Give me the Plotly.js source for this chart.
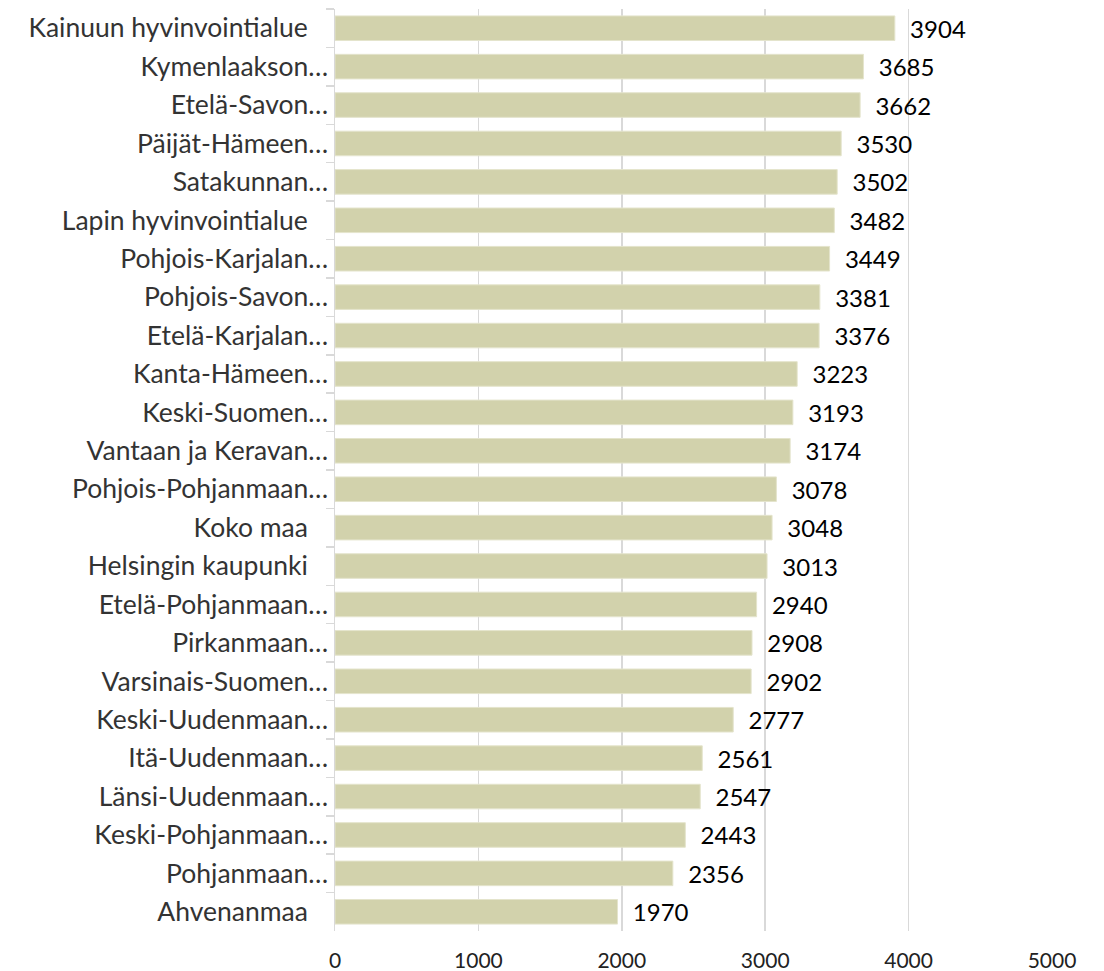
<!DOCTYPE html>
<html>
<head>
<meta charset="utf-8">
<script src="https://cdn.plot.ly/plotly-3.0.1.min.js"></script>
<style>html,body{margin:0;padding:0;background:#fff;}#chart{width:1104px;height:971px;}</style>
</head>
<body>
<div id="chart"></div>
<script>
const categories = [
  "Kainuun hyvinvointialue\u00a0\u00a0\u00a0",
  "Kymenlaakson…",
  "Etelä-Savon…",
  "Päijät-Hämeen…",
  "Satakunnan…",
  "Lapin hyvinvointialue\u00a0\u00a0\u00a0",
  "Pohjois-Karjalan…",
  "Pohjois-Savon…",
  "Etelä-Karjalan…",
  "Kanta-Hämeen…",
  "Keski-Suomen…",
  "Vantaan ja Keravan…",
  "Pohjois-Pohjanmaan…",
  "Koko maa\u00a0\u00a0\u00a0",
  "Helsingin kaupunki\u00a0\u00a0\u00a0",
  "Etelä-Pohjanmaan…",
  "Pirkanmaan…",
  "Varsinais-Suomen…",
  "Keski-Uudenmaan…",
  "Itä-Uudenmaan…",
  "Länsi-Uudenmaan…",
  "Keski-Pohjanmaan…",
  "Pohjanmaan…",
  "Ahvenanmaa\u00a0\u00a0\u00a0"
];
const values = [3904, 3685, 3662, 3530, 3502, 3482, 3449, 3381, 3376, 3223, 3193, 3174, 3078, 3048, 3013, 2940, 2908, 2902, 2777, 2561, 2547, 2443, 2356, 1970];
const xTicks = [0, 1000, 2000, 3000, 4000, 5000];

const font = "Lato, 'Open Sans', sans-serif";

Plotly.newPlot('chart', [{
  type: 'bar',
  orientation: 'h',
  y: categories,
  x: values,
  marker: {color: '#d2d2ac', line: {color: '#e4e4cc', width: 1}},
  text: values.map(v => '\u00a0\u00a0' + v),
  textposition: 'outside',
  constraintext: 'none',
  textfont: {family: font, size: 24, color: '#000'},
  cliponaxis: false,
  hoverinfo: 'none'
}], {
  width: 1104, height: 971,
  margin: {l: 335, r: 52, t: 9, b: 40},
  paper_bgcolor: '#fff', plot_bgcolor: '#fff',
  bargap: 0.36,
  showlegend: false,
  xaxis: {
    range: [0, 5000], tickvals: xTicks, ticktext: xTicks.map(String),
    showgrid: true, gridcolor: '#d9d9d9', gridwidth: 1.5,
    zeroline: false, showline: false, ticks: '',
    ticklabelstandoff: 15,
    tickfont: {family: font, size: 21, color: '#222'}
  },
  yaxis: {
    type: 'category', autorange: 'reversed',
    showline: true, linecolor: '#d9d9d9', linewidth: 1.5,
    ticks: 'outside', ticklen: 8, tickcolor: '#d9d9d9', tickwidth: 1.5,
    tickson: 'boundaries', showgrid: false, zeroline: false,
    tickfont: {family: font, size: 26.5, color: '#333'}
  }
}, {displayModeBar: false, staticPlot: true});
</script>
</body>
</html>
